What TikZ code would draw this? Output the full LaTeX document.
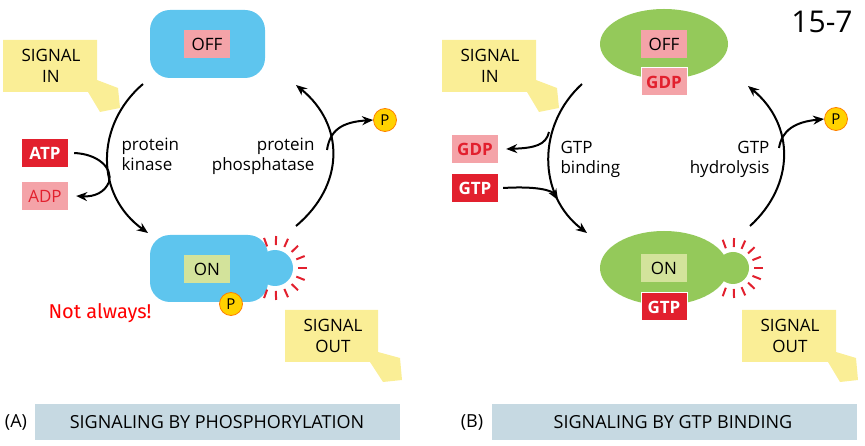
\documentclass[tikz,border=0pt]{standalone}
\usepackage{fontspec}
\setmainfont{Open Sans}
\newfontfamily\fira{Fira Sans}
\usetikzlibrary{arrows.meta,calc}
\definecolor{blu}{HTML}{5EC5EE}
\definecolor{grn}{HTML}{94C95A}
\definecolor{lgrn}{HTML}{D3E39B}
\definecolor{pnk}{HTML}{F4A3A8}
\definecolor{rd}{HTML}{E2202E}
\definecolor{ylw}{HTML}{FAEE96}
\definecolor{pyel}{HTML}{FFD200}
\definecolor{bar}{HTML}{C6D9E2}
\tikzset{
 lab/.style={minimum width=46pt,minimum height=28pt,inner sep=0pt,font=\fontsize{17}{17}\selectfont},
 pink/.style={lab,fill=pnk,text=rd},
 red/.style={lab,fill=rd,text=white,font=\fontsize{17}{17}\selectfont\bfseries},
 pst/.style={circle,fill=pyel,draw=orange,line width=0.8pt,minimum size=23pt,inner sep=0pt,font=\fontsize{15}{15}\selectfont},
 arr/.style={line width=2pt,-{Stealth[length=11pt,width=9pt]}},
 txt/.style={font=\fontsize{17}{20}\selectfont,align=left},
 sig/.style={fill=ylw},
 rdash/.style={rd,line width=2pt},
}
\begin{document}
\begin{tikzpicture}[x=1pt,y=-1pt]
\useasboundingbox (0,0) rectangle (865,446);
% ===== Panel A =====
\fill[sig] (3,40)--(97,40)--(97,80)--(118,88)--(120,108)--(100,112)--(88,92)--(3,92)--cycle;
\node[font=\fontsize{17}{21}\selectfont,align=center] (sinA) at (51,66) {SIGNAL\\IN};
\fill[sig] (285,310)--(378,310)--(378,352)--(400,358)--(402,380)--(383,382)--(370,362)--(285,362)--cycle;
\node[font=\fontsize{17}{21}\selectfont,align=center] (soutA) at (333,336) {SIGNAL\\OUT};
\fill[blu,rounded corners=20pt] (150,10) rectangle (265,78);
\node[pink,text=black] (offA) at (207,44) {OFF};
\fill[blu] (275,268) circle (18);
\fill[blu,rounded corners=20pt] (150,235) rectangle (268,302);
\node[lab,fill=lgrn] (onA) at (207,269) {ON};
\node[pst] (pA2) at (231,304) {P};
\foreach \a in {-110,-88,...,110} \draw[rdash] ($(275,268)+(\a:23)$) -- ($(275,268)+(\a:32)$);
\coordinate (a1) at (143,84); \coordinate (a2) at (148,233);
\draw[arr] (a1) .. controls (95,125) and (95,195) .. (a2);
\coordinate (b1) at (296,226); \coordinate (b2) at (296,85);
\draw[arr] (b1) .. controls (345,185) and (345,125) .. (b2);
\node[pst] (pA) at (385,120) {P};
\draw[arr] (327,150) .. controls (330,130) and (342,122) .. (pA.west);
\node[red] (atp) at (45,153) {ATP};
\node[pink] (adp) at (45,196) {ADP};
\draw[arr] ($(atp.east)+(6,0)$) .. controls (98,154) and (113,168) .. (109,182) .. controls (105,192) and (95,197) .. ($(adp.east)+(8,0)$);
\node[txt,anchor=north west] (pk) at (118,134) {protein\\kinase};
\node[txt,anchor=north east,align=right] (pp) at (318,134) {protein\\phosphatase};
\node[font=\fira\fontsize{20}{20}\selectfont,text=red] (na) at (100,313) {Not always!};
\fill[bar] (35,404) rectangle (400,440);
\node[font=\fontsize{18}{18}\selectfont] (tA) at (217,422) {SIGNALING BY PHOSPHORYLATION};
\node[font=\fontsize{18}{18}\selectfont] (lA) at (16,422) {(A)};
% ===== Panel B =====
\fill[sig] (442,40)--(536,40)--(536,80)--(557,88)--(559,108)--(539,112)--(527,92)--(442,92)--cycle;
\node[font=\fontsize{17}{21}\selectfont,align=center] (sinB) at (490,66) {SIGNAL\\IN};
\fill[sig] (742,310)--(836,310)--(836,352)--(856,358)--(858,380)--(840,382)--(828,362)--(742,362)--cycle;
\node[font=\fontsize{17}{21}\selectfont,align=center] (soutB) at (790,336) {SIGNAL\\OUT};
\fill[grn] (664,44) ellipse (64 and 35);
\node[pink,text=black] (offB) at (664,44) {OFF};
\node[pink,draw=white,line width=1pt,font=\fontsize{17}{17}\selectfont\bfseries] (gdpB) at (664,82) {GDP};
\fill[grn] (733,268) circle (16);
\fill[grn] (664,268) ellipse (64 and 37);
\node[lab,fill=lgrn] (onB) at (664,268) {ON};
\node[red,draw=white,line width=1pt] (gtpB) at (664,307) {GTP};
\foreach \a in {-110,-88,...,110} \draw[rdash] ($(733,268)+(\a:21)$) -- ($(733,268)+(\a:30)$);
\coordinate (c1) at (582,84); \coordinate (c2) at (587,233);
\draw[arr] (c1) .. controls (537,125) and (537,195) .. (c2);
\coordinate (d1) at (750,226); \coordinate (d2) at (748,86);
\draw[arr] (d1) .. controls (795,185) and (795,125) .. (d2);
\node[pst] (pB) at (836,119) {P};
\draw[arr] (779,148) .. controls (782,130) and (795,122) .. (pB.west);
\node[pink,font=\fontsize{17}{17}\selectfont\bfseries] (gdpL) at (475,149) {GDP};
\node[red] (gtpL) at (475,188) {GTP};
\draw[arr] (549,132) .. controls (546,145) and (535,148) .. ($(gdpL.east)+(8,0)$);
\draw[arr] ($(gtpL.east)+(5,0)$) .. controls (535,186) and (552,190) .. (558,200);
\node[txt,anchor=north west] (gb) at (557,138) {GTP\\binding};
\node[txt,anchor=north east,align=right] (gh) at (773,138) {GTP\\hydrolysis};
\node[font=\fontsize{30}{30}\selectfont] (num) at (822,22) {15-7};
\fill[bar] (492,404) rectangle (857,440);
\node[font=\fontsize{18}{18}\selectfont] (tB) at (673,422) {SIGNALING BY GTP BINDING};
\node[font=\fontsize{18}{18}\selectfont] (lB) at (472,422) {(B)};
\end{tikzpicture}
\end{document}
